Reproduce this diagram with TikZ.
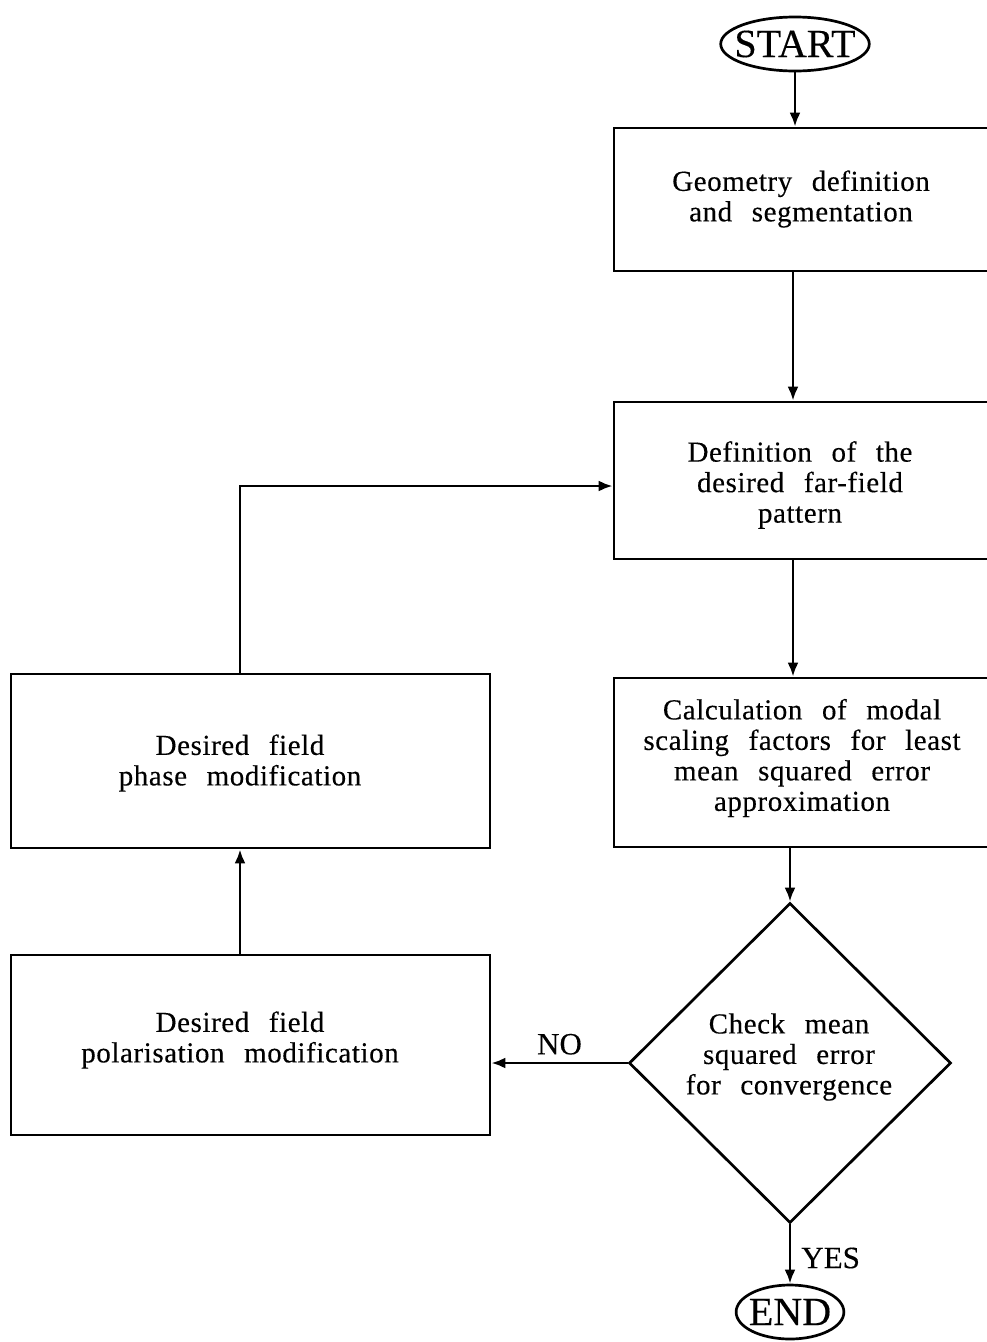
\documentclass[tikz,border=0pt]{standalone}
\usepackage{fontspec}
\setmainfont{Liberation Serif}[FakeBold=0.3]
\newfontfamily\boxfont{Liberation Serif}[LetterSpace=2,WordSpace=2.5,FakeBold=0.3]
\usetikzlibrary{shapes.geometric,arrows.meta}
\begin{document}
\begin{tikzpicture}[x=1pt,y=-1pt,
  line width=2.7pt,
  every node/.style={inner sep=0pt},
  arr/.style={-{Latex[length=14pt,width=11pt]}},
  stepbox/.style={draw,rectangle},
  txt/.style={align=center,font=\boxfont\fontsize{29}{30.5}\selectfont},
  term/.style={draw,ellipse,font=\fontsize{40}{44}\selectfont,inner ysep=1pt},
  tag/.style={font=\fontsize{31}{34}\selectfont}]
\useasboundingbox (0,0) rectangle (987,1342);
\clip (0,0) rectangle (987,1342);

% terminals
\node[term,inner xsep=-8pt,minimum width=144pt,minimum height=54pt] (start) at (795,44) {START};
\node[term,inner xsep=-3pt,minimum width=96pt,minimum height=54pt] (end) at (790,1312) {END};

% right column of process boxes (open to the right edge)
\node[stepbox,minimum width=381pt,minimum height=143pt] (geo) at (804.5,199.5) {};
\node[txt] (geotxt) at (801,199) {Geometry definition\\and segmentation};

\node[stepbox,minimum width=381pt,minimum height=157pt] (desired) at (804.5,480.5) {};
\node[txt] (desiredtxt) at (800,485) {Definition of the\\desired far-field\\pattern};

\node[stepbox,minimum width=381pt,minimum height=169pt] (calc) at (804.5,762.5) {};
\node[txt] (calctxt) at (802,758) {Calculation of modal\\scaling factors for least\\mean squared error\\approximation};

% decision
\node[draw,diamond,minimum width=322pt,minimum height=320pt] (check) at (790,1063) {};
\node[txt] (checktxt) at (789,1057) {Check mean\\squared error\\for convergence};

% left column
\node[stepbox,minimum width=479pt,minimum height=174pt] (phase) at (250.5,761) {};
\node[txt] (phasetxt) at (240,763) {Desired field\\phase modification};

\node[stepbox,minimum width=479pt,minimum height=180pt] (polar) at (250.5,1045) {};
\node[txt] (polartxt) at (240,1040) {Desired field\\polarisation modification};

% connectors
\draw[arr] (start.south) -- (start.south |- geo.north);
\draw[arr] (geo.south -| 793,0) -- (desired.north -| 793,0);
\draw[arr] (desired.south -| 793,0) -- (calc.north -| 793,0);
\draw[arr] (calc.south -| check.north) -- (check.north);
\draw[arr] (check.south) -- (end.north);
\draw[arr] (check.west) -- (check.west -| polar.east) node[tag,pos=0.5,above=7pt] (no) {NO};
\draw[arr] (phasetxt |- polar.north) -- (phasetxt |- phase.south);
\draw[arr] (phasetxt |- phase.north) |- (desired.west |- 0,486);
\node[tag,anchor=west] (yes) at (800,1258) {YES};
\end{tikzpicture}
\end{document}
